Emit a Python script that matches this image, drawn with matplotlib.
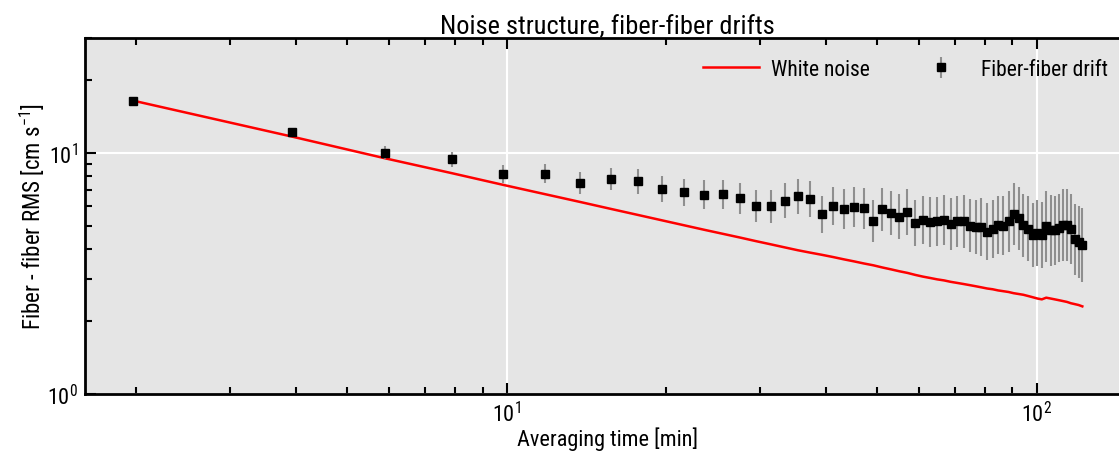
import matplotlib
matplotlib.use("Agg")
import matplotlib.pyplot as plt
import numpy as np

plt.rcParams['font.family'] = ['Roboto Condensed', 'Liberation Sans Narrow', 'Roboto', 'DejaVu Sans']
plt.rcParams['mathtext.fontset'] = 'custom'
plt.rcParams['mathtext.rm'] = 'Roboto Condensed'
plt.rcParams['mathtext.it'] = 'Roboto Condensed:italic'

# Averaging time [min]
avg_time = [1.97, 3.93, 5.90, 7.87, 9.83, 11.80, 13.77, 15.73, 17.70, 19.67,
            21.63, 23.60, 25.57, 27.53, 29.50, 31.47, 33.43, 35.40, 37.37, 39.33,
            41.30, 43.27, 45.23, 47.20, 49.17, 51.13, 53.10, 55.07, 57.03, 59.00,
            60.97, 62.93, 64.90, 66.87, 68.83, 70.80, 72.77, 74.73, 76.70, 78.67,
            80.63, 82.60, 84.57, 86.53, 88.50, 90.47, 92.43, 94.40, 96.37, 98.33,
            100.30, 102.27, 104.23, 106.20, 108.17, 110.13, 112.10, 114.07, 116.03, 118.00,
            119.97, 121.93]

# Fiber-fiber drift RMS [cm/s]
drift_rms = [16.5, 12.2, 10.0, 9.4, 8.2, 8.2, 7.5, 7.82, 7.65, 7.08,
             6.88, 6.71, 6.73, 6.48, 6.04, 6.0, 6.35, 6.6, 6.44, 5.56,
             6.03, 5.87, 5.98, 5.91, 5.22, 5.83, 5.63, 5.45, 5.70, 5.13,
             5.28, 5.18, 5.20, 5.28, 5.07, 5.20, 5.20, 4.99, 4.93, 4.93,
             4.72, 4.83, 5.04, 4.99, 5.20, 5.58, 5.35, 5.02, 4.86, 4.57,
             4.66, 4.56, 4.96, 4.77, 4.77, 4.90, 5.02, 5.02, 4.82, 4.38,
             4.27, 4.16]

# Uncertainty on drift RMS [cm/s]
drift_err = [0.5, 0.55, 0.64, 0.72, 0.75, 0.78, 0.81, 0.88, 0.97, 0.93,
             0.95, 0.98, 1.01, 1.04, 1.00, 1.03, 1.14, 1.21, 1.21, 1.08,
             1.21, 1.22, 1.26, 1.28, 1.16, 1.32, 1.31, 1.30, 1.39, 1.28,
             1.38, 1.39, 1.38, 1.41, 1.44, 1.44, 1.49, 1.45, 1.45, 1.56,
             1.49, 1.53, 1.61, 1.61, 1.78, 1.94, 1.87, 1.77, 1.78, 1.65,
             1.75, 1.70, 1.99, 1.92, 1.87, 1.89, 2.05, 2.05, 1.92, 1.79,
             1.74, 1.76]

# White noise expectation [cm/s]
white_noise = [16.5, 11.7, 9.5, 8.25, 7.38, 6.75, 6.26, 5.86, 5.53, 5.25,
               5.01, 4.80, 4.62, 4.46, 4.31, 4.18, 4.06, 3.95, 3.86, 3.78,
               3.70, 3.62, 3.55, 3.48, 3.42, 3.35, 3.29, 3.23, 3.18, 3.12,
               3.07, 3.03, 2.99, 2.96, 2.92, 2.89, 2.86, 2.83, 2.80, 2.77,
               2.74, 2.72, 2.69, 2.67, 2.65, 2.62, 2.60, 2.58, 2.55, 2.52,
               2.49, 2.47, 2.51, 2.49, 2.47, 2.45, 2.43, 2.41, 2.38, 2.36,
               2.34, 2.31]

x = np.array(avg_time)
y = np.array(drift_rms)
e = np.array(drift_err)
# bars drawn symmetric in log space
f = 1.0 + e / y
yerr = np.vstack([y - y / f, y * f - y])

fig = plt.figure(figsize=(11.19, 4.52), dpi=100)
ax = fig.add_axes([85 / 1119, (452 - 395) / 452, 1045 / 1119, 356 / 452])
ax.set_facecolor('#e5e5e5')

ax.plot(x, white_noise, color='red', lw=1.8, label='White noise', zorder=3)
ax.errorbar(x, y, yerr=yerr, fmt='s', color='black', ms=5.5,
            ecolor='#8f8f8f', elinewidth=1.5, capsize=0,
            label='Fiber-fiber drift', zorder=4)

ax.set_xscale('log')
ax.set_yscale('log')
ax.set_xlim(1.6, 150)
ax.set_ylim(1, 30)

ax.grid(True, which='major', color='white', lw=1.5, zorder=0)
ax.set_axisbelow(True)

for s in ['left', 'top', 'bottom']:
    ax.spines[s].set_linewidth(2)
    ax.spines[s].set_color('black')
ax.spines['right'].set_visible(False)

ax.tick_params(which='both', direction='in', top=True, right=False,
               labelsize=16, width=1.5, colors='black')
ax.tick_params(which='major', length=8)
ax.tick_params(which='minor', length=5)
ax.tick_params(axis='x', which='major', pad=5)
ax.tick_params(axis='y', which='major', pad=5)

ax.set_xlabel('Averaging time [min]', fontsize=16, labelpad=0)
ax.set_ylabel(r'Fiber - fiber RMS [cm s$^{-1}$]', fontsize=16.5, labelpad=0)
ax.set_title('Noise structure, fiber-fiber drifts', fontsize=19, pad=3)

leg = ax.legend(loc='upper right', bbox_to_anchor=(1108 / 1119, 1 - 60 / 452),
                bbox_transform=fig.transFigure, borderaxespad=0, borderpad=0,
                ncol=2, frameon=False, fontsize=15.5, columnspacing=2.0,
                handlelength=2.6, handletextpad=0.55)

fig.savefig('out.png', dpi=100)
